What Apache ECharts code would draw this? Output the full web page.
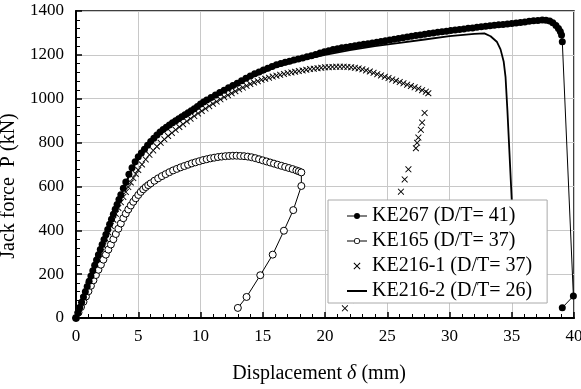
<!DOCTYPE html>
<html>
<head>
<meta charset="utf-8">
<script src="https://cdn.jsdelivr.net/npm/echarts@6/dist/echarts.min.js"></script>
<style>
  html, body { margin: 0; padding: 0; background: #fff; }
  #chart { width: 581px; height: 389px; }
</style>
</head>
<body>
<div id="chart"></div>
<script>
// legend names
var names = ['KE267 (D/T= 41)', 'KE165 (D/T= 37)', 'KE216-1 (D/T= 37)', 'KE216-2 (D/T= 26)']

// [displacement (mm), jack force (kN)]
var ke267 = [
  [0, 0], [0.15, 24], [0.3, 48], [0.45, 72], [0.6, 96], [0.75, 120], [0.9, 144], [1.05, 168],
  [1.2, 192], [1.35, 216], [1.5, 240], [1.65, 264], [1.8, 288], [1.95, 312], [2.1, 335],
  [2.25, 358], [2.4, 381], [2.55, 404], [2.7, 427], [2.85, 450], [3.0, 473], [3.15, 496],
  [3.3, 518], [3.45, 540], [3.6, 562], [3.8, 592], [4.0, 620], [4.25, 655], [4.5, 685],
  [4.75, 712], [5.0, 735], [5.25, 753], [5.5, 770], [5.75, 788], [6.0, 805], [6.25, 820],
  [6.5, 835], [6.75, 848], [7.0, 860], [7.25, 870], [7.5, 880], [7.75, 890], [8.0, 900],
  [8.25, 909], [8.5, 918], [8.75, 927], [9.0, 936], [9.25, 945], [9.5, 954], [9.75, 965],
  [10.0, 976], [10.25, 985], [10.5, 994], [10.85, 1005], [11.2, 1017], [11.55, 1028],
  [11.9, 1039], [12.25, 1050], [12.6, 1060], [12.95, 1071], [13.3, 1082], [13.65, 1093],
  [14.0, 1104], [14.35, 1114], [14.7, 1122], [15.05, 1131], [15.4, 1139], [15.75, 1147],
  [16.1, 1155], [16.45, 1161], [16.8, 1166], [17.15, 1171], [17.5, 1176], [17.85, 1181],
  [18.2, 1186], [18.55, 1191], [18.9, 1196], [19.25, 1202], [19.6, 1208], [19.95, 1214],
  [20.3, 1219], [20.65, 1224], [21.0, 1228], [21.35, 1232], [21.7, 1235], [22.05, 1238],
  [22.4, 1241], [22.75, 1245], [23.1, 1248], [23.45, 1251], [23.8, 1254], [24.15, 1257],
  [24.5, 1261], [24.85, 1264], [25.2, 1268], [25.55, 1271], [25.9, 1275], [26.25, 1278],
  [26.6, 1281], [26.95, 1285], [27.3, 1288], [27.65, 1291], [28.0, 1294], [28.35, 1297],
  [28.7, 1300], [29.05, 1303], [29.4, 1305], [29.75, 1308], [30.1, 1311], [30.45, 1313],
  [30.8, 1316], [31.15, 1318], [31.5, 1321], [31.85, 1323], [32.2, 1326], [32.55, 1328],
  [32.9, 1330], [33.25, 1333], [33.6, 1335], [33.95, 1337], [34.3, 1339], [34.65, 1341],
  [35.0, 1343], [35.35, 1345], [35.7, 1348], [36.05, 1350], [36.4, 1353], [36.75, 1355],
  [37.1, 1357], [37.45, 1359], [37.75, 1358], [38.05, 1354], [38.3, 1346], [38.55, 1334],
  [38.75, 1320], [38.9, 1306], [39.0, 1290], [39.06, 1260], [39.95, 100], [39.06, 47]
]
var ke165 = [
  [0, 0], [0.2, 25], [0.4, 50], [0.6, 74], [0.8, 98], [1.0, 122], [1.2, 147], [1.4, 172],
  [1.6, 196], [1.8, 220], [2.0, 243], [2.2, 266], [2.4, 289], [2.6, 312], [2.8, 335], [3.0, 359],
  [3.2, 383], [3.4, 407], [3.6, 431], [3.8, 455], [4.0, 476], [4.2, 495], [4.4, 513], [4.6, 530],
  [4.8, 546], [5.0, 561], [5.2, 575], [5.4, 587], [5.6, 597], [5.8, 606], [6.0, 614], [6.3, 626],
  [6.6, 637], [6.9, 647], [7.2, 656], [7.5, 665], [7.8, 673], [8.1, 680], [8.4, 687], [8.7, 693],
  [9.0, 699], [9.3, 705], [9.6, 710], [9.9, 715], [10.2, 720], [10.5, 724], [10.8, 728],
  [11.1, 731], [11.4, 734], [11.7, 736], [12.0, 738], [12.3, 739], [12.6, 740], [12.9, 740],
  [13.2, 739], [13.5, 738], [13.8, 736], [14.1, 733], [14.4, 729], [14.7, 724], [15.0, 719],
  [15.3, 714], [15.6, 709], [15.9, 704], [16.2, 699], [16.5, 694], [16.8, 689], [17.1, 684],
  [17.4, 679], [17.7, 673], [17.9, 669], [18.1, 664],
  [18.1, 602], [17.45, 492], [16.7, 398], [15.8, 289], [14.8, 195], [13.7, 96], [13.0, 46]
]
var ke216_1 = [
  [0, 0], [0.2, 30], [0.4, 60], [0.6, 90], [0.8, 120], [1.0, 150], [1.2, 180], [1.4, 210],
  [1.6, 240], [1.8, 270], [2.0, 300], [2.2, 330], [2.4, 360], [2.6, 390], [2.8, 420], [3.0, 448],
  [3.2, 475], [3.4, 502], [3.6, 528], [3.8, 552], [4.0, 575], [4.2, 597], [4.4, 618], [4.6, 638],
  [4.8, 657], [5.0, 675], [5.3, 700], [5.6, 723], [5.9, 744], [6.2, 764], [6.5, 782], [6.8, 799],
  [7.1, 815], [7.4, 830], [7.7, 844], [8.0, 858], [8.3, 871], [8.6, 884], [8.9, 897], [9.2, 909],
  [9.5, 921], [9.8, 933], [10.1, 944], [10.4, 955], [10.7, 966], [11.0, 977], [11.3, 987],
  [11.6, 997], [11.9, 1007], [12.2, 1016], [12.5, 1025], [12.8, 1034], [13.1, 1043], [13.4, 1051],
  [13.7, 1059], [14.0, 1067], [14.3, 1074], [14.6, 1080], [14.9, 1086], [15.2, 1091], [15.5, 1096],
  [15.8, 1101], [16.1, 1105], [16.4, 1109], [16.7, 1113], [17.0, 1117], [17.3, 1120], [17.6, 1123],
  [17.9, 1126], [18.2, 1129], [18.5, 1132], [18.8, 1135], [19.1, 1137], [19.4, 1139], [19.7, 1141],
  [20.0, 1143], [20.3, 1144], [20.6, 1145], [20.9, 1146], [21.2, 1146], [21.5, 1146], [21.8, 1145],
  [22.1, 1143], [22.4, 1141], [22.7, 1138], [23.0, 1134], [23.3, 1129], [23.6, 1124], [23.9, 1118],
  [24.2, 1112], [24.5, 1106], [24.8, 1100], [25.1, 1094], [25.4, 1088], [25.7, 1082], [26.0, 1076],
  [26.3, 1070], [26.6, 1064], [26.9, 1058], [27.2, 1052], [27.5, 1046], [27.8, 1039], [28.1, 1032],
  [28.3, 1025],
  [28.0, 935], [27.8, 891], [27.7, 858], [27.5, 823], [27.4, 799], [27.3, 774], [26.7, 678],
  [26.4, 632], [26.1, 576], [25.5, 480], [24.8, 370], [24.0, 260], [23.2, 170], [22.6, 115],
  [22.1, 82], [21.6, 44]
]
var ke216_2 = [
  [0, 0], [1, 160], [2, 320], [3, 470], [3.8, 585], [4.5, 680], [5.5, 765], [6.5, 828], [8, 893],
  [10, 968], [12, 1036], [14, 1095], [16, 1143], [18, 1175], [20, 1200], [22, 1222], [24, 1240],
  [26, 1255], [28, 1270], [30, 1285], [32, 1296], [32.8, 1298], [33.3, 1285], [33.8, 1260],
  [34.1, 1225], [34.35, 1170], [34.5, 1100], [34.65, 948], [35.0, 538], [35.3, 150]
]

var xTicks = { min: 0, max: 40, interval: 5 }
var yTicks = { min: 0, max: 1400, interval: 200 }

var serif = '"Liberation Serif", "DejaVu Serif", serif'
var crossPath = 'path://M0,1L1,0L5,4L9,0L10,1L6,5L10,9L9,10L5,6L1,10L0,9L4,5Z'

// legend icons: short line with marker, drawn 20 wide
var iconFilled = 'path://M0,2.9L20,2.9L20,4.1L0,4.1Z M13,3.5A3,3 0 1 1 7,3.5A3,3 0 1 1 13,3.5Z'
var iconOpen = 'path://M0,2.9L7,2.9L7,4.1L0,4.1Z M13,2.9L20,2.9L20,4.1L13,4.1Z ' +
  'M13,3.5A3,3 0 1 1 7,3.5A3,3 0 1 1 13,3.5Z M12.2,3.5A2.2,2.2 0 1 0 7.8,3.5A2.2,2.2 0 1 0 12.2,3.5Z'
var iconLine = 'path://M0,2.5L20,2.5L20,4.5L0,4.5Z'

var myChart = echarts.init(document.getElementById('chart'), null, { renderer: 'canvas' })

var option = {
  backgroundColor: '#fff',
  animation: false,
  textStyle: { fontFamily: serif, color: '#000' },
  grid: {
    left: 76,
    right: 7,
    top: 11,
    bottom: 71,
    containLabel: false,
    outerBoundsMode: 'none',
    show: true,
    borderColor: '#000',
    borderWidth: 1.5
  },
  legend: {
    data: [
      { name: names[0], icon: iconFilled, itemStyle: { color: '#000', borderWidth: 0 } },
      { name: names[1], icon: iconOpen, itemStyle: { color: '#000', borderWidth: 0 } },
      { name: names[2], icon: crossPath, itemStyle: { color: '#000', borderWidth: 0 } },
      { name: names[3], icon: iconLine, itemStyle: { color: '#000', borderWidth: 0 } }
    ],
    orient: 'vertical',
    left: 328,
    top: 200,
    padding: [5, 15, 1, 19],
    itemGap: 3,
    itemWidth: 20,
    itemHeight: 7,
    backgroundColor: '#fff',
    borderColor: '#aaa',
    borderWidth: 1,
    borderRadius: 0,
    textStyle: { fontFamily: serif, fontSize: 20, color: '#000', lineHeight: 22 }
  },
  xAxis: {
    type: 'value',
    min: xTicks.min,
    max: xTicks.max,
    interval: xTicks.interval,
    name: '{a|Displacement }{i|δ}{a| (mm)}',
    nameLocation: 'middle',
    nameGap: 46,
    nameTextStyle: {
      padding: [0, 12, 0, 0],
      rich: {
        a: { fontFamily: serif, fontSize: 20, color: '#000' },
        i: { fontFamily: serif, fontSize: 20, color: '#000', fontStyle: 'italic' }
      }
    },
    axisLine: { show: true, lineStyle: { color: '#000', width: 2 } },
    axisTick: { show: true, inside: true, length: 6, lineStyle: { color: '#000', width: 1.5 } },
    minorTick: { show: true, splitNumber: 5, length: 4, lineStyle: { color: '#000', width: 1 } },
    axisLabel: { fontFamily: serif, fontSize: 17, color: '#000', margin: 10 },
    splitLine: { show: true, lineStyle: { color: '#c8c8c8', width: 1 } }
  },
  yAxis: {
    type: 'value',
    min: yTicks.min,
    max: yTicks.max,
    interval: yTicks.interval,
    name: 'Jack force  P (kN)',
    nameLocation: 'middle',
    nameGap: 50,
    nameTextStyle: { fontFamily: serif, fontSize: 20, color: '#000', padding: [0, 43, 0, 0] },
    axisLine: { show: true, lineStyle: { color: '#000', width: 2 } },
    axisTick: { show: true, inside: true, length: 6, lineStyle: { color: '#000', width: 1.5 } },
    minorTick: { show: true, splitNumber: 5, length: 4, lineStyle: { color: '#000', width: 1 } },
    axisLabel: {
      fontFamily: serif, fontSize: 17, color: '#000', margin: 12,
      formatter: function (value) { return String(value) }
    },
    splitLine: { show: true, lineStyle: { color: '#c8c8c8', width: 1 } }
  },
  series: [
    {
      name: names[3],
      type: 'line',
      data: ke216_2,
      showSymbol: false,
      symbol: 'none',
      clip: false,
      lineStyle: { color: '#000', width: 1.8 },
      itemStyle: { color: '#000' },
      z: 3
    },
    {
      name: names[2],
      type: 'scatter',
      data: ke216_1,
      symbol: crossPath,
      symbolSize: 6.5,
      itemStyle: { color: '#000', opacity: 1 },
      z: 2
    },
    {
      name: names[1],
      type: 'line',
      data: ke165,
      symbol: 'circle',
      symbolSize: 7,
      showAllSymbol: true,
      lineStyle: { color: '#000', width: 1 },
      itemStyle: { color: '#fff', borderColor: '#000', borderWidth: 1 },
      z: 4
    },
    {
      name: names[0],
      type: 'line',
      data: ke267,
      symbol: 'circle',
      symbolSize: 7,
      showAllSymbol: true,
      clip: false,
      lineStyle: { color: '#000', width: 1 },
      itemStyle: { color: '#000', borderColor: '#000', borderWidth: 0 },
      z: 5
    }
  ]
}

option && myChart.setOption(option)
</script>
</body>
</html>
